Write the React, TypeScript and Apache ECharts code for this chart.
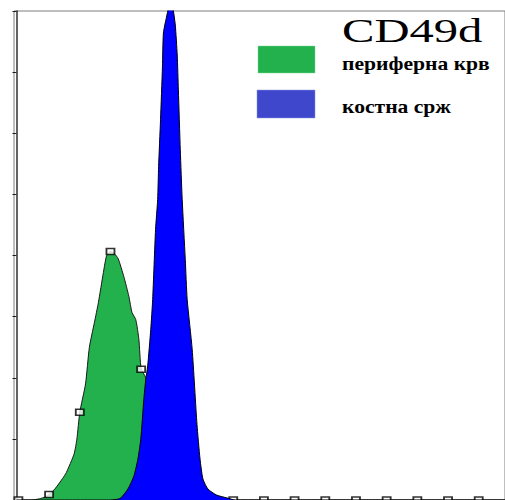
import React, { useEffect, useRef } from "react";
import * as echarts from "echarts";

// Histogram channels (x) and counts (y)
const greenCh = [0, 8, 12, 15, 17, 20, 24, 26, 30, 31.5, 33, 36, 38, 40.6, 42.7, 45.3, 47, 49, 51, 53, 56, 58.6, 60.2, 62.2, 63.8, 65, 67.4, 70, 72.5, 75, 80, 85, 90, 96, 101, 106, 256];
const greenCount = [0, 0, 0.4, 1, 1.8, 3.6, 7, 9, 15, 20, 28.7, 38, 50, 58, 64.6, 74.4, 80, 81.3, 80.6, 79, 73, 66.6, 61.4, 59, 52.6, 43, 40, 33, 26.4, 20, 11, 5.2, 2.3, 1, 0.3, 0, 0];

const blueCh = [0, 49, 53, 54.5, 58.1, 61.2, 63.3, 64.8, 66.4, 67.4, 68.4, 70, 71, 72.5, 73.6, 74.1, 75.1, 76.1, 76.6, 78.2, 79.2, 80.2, 81.8, 82.8, 83.8, 84.4, 85.4, 86.4, 88, 89, 91.6, 94.1, 95.7, 97.2, 99.8, 104.4, 109.6, 114, 256];
const blueCount = [0, 0, 0.3, 0.7, 3.6, 7.8, 13.4, 19.9, 33, 39.5, 43.8, 55.8, 65.6, 88.5, 98.3, 109.1, 124.4, 141.7, 152.8, 158, 161, 165, 160, 155.4, 145.6, 134.2, 114.6, 98.3, 78.7, 65.6, 49.3, 24.8, 13.4, 6.9, 3.6, 1.6, 0.7, 0, 0];

// Gate markers on the green histogram
const markerCh = [1, 17, 33, 49, 65, 81, 97, 113, 129, 145, 161, 177, 193, 209, 225, 241];
const markerCount = [0, 1.8, 28.7, 81.3, 42.8, 11, 1, 0, 0, 0, 0, 0, 0, 0, 0, 0];

const seriesNames = ["периферна крв", "костна срж"];
const titleText = "CD49d";

const GREEN = "#22B14C";
const BLUE = "#0000FF";
const LEGEND_BLUE = "#3F48CC";
const SERIF = '"Liberation Serif", "Times New Roman", serif';

export default function App() {
  const ref = useRef<HTMLDivElement | null>(null);

  useEffect(() => {
    document.body.style.margin = "0";
    document.body.style.overflow = "hidden";
    if (!ref.current) return;
    const chart = echarts.init(ref.current, null, { renderer: "svg" });
    const greenData = greenCh.map((c, i) => [c, greenCount[i]]);
    const blueData = blueCh.map((c, i) => [c, blueCount[i]]);
    const markerData = markerCh.map((c, i) => [c, markerCount[i]]);

    chart.setOption({
      animation: false,
      backgroundColor: "#ffffff",
      grid: {
        left: 14,
        top: 11,
        right: -7,
        bottom: -1,
        show: true,
        borderColor: "#7f7f7f",
        borderWidth: 1,
        backgroundColor: "transparent",
      },
      xAxis: {
        type: "value",
        min: -1.3,
        max: 254.7,
        show: false,
      },
      yAxis: {
        type: "value",
        min: 0,
        max: 160,
        interval: 20,
        axisLine: { show: true, lineStyle: { color: "#303030", width: 1.5 } },
        axisTick: { show: true, inside: false, length: 4, lineStyle: { color: "#202020", width: 1 } },
        axisLabel: { show: false },
        splitLine: { show: false },
      },
      series: [
        {
          name: seriesNames[0],
          type: "line",
          data: greenData,
          smooth: 0.2,
          symbol: "none",
          z: 2,
          lineStyle: { color: "#1a1a1a", width: 1 },
          areaStyle: { color: GREEN, opacity: 1 },
        },
        {
          name: "markers",
          type: "scatter",
          data: markerData,
          symbol: "rect",
          symbolSize: [8, 6],
          z: 2,
          itemStyle: { color: "#ffffff", borderColor: "#000000", borderWidth: 1.6 },
        },
        {
          name: seriesNames[1],
          type: "line",
          data: blueData,
          smooth: 0.2,
          symbol: "none",
          z: 3,
          lineStyle: { color: "#000000", width: 1 },
          areaStyle: { color: BLUE, opacity: 1 },
        },
      ],
      graphic: [
        {
          type: "text",
          x: 342,
          y: 31,
          scaleX: 1.43,
          z: 10,
          style: { text: titleText, font: `34px ${SERIF}`, fill: "#000", verticalAlign: "middle", align: "left" },
        },
        {
          type: "rect",
          shape: { x: 258, y: 46, width: 57, height: 27 },
          z: 10,
          style: { fill: GREEN, stroke: "#7fd49a", lineWidth: 0.5 },
        },
        {
          type: "rect",
          shape: { x: 257, y: 90, width: 58, height: 28 },
          z: 10,
          style: { fill: LEGEND_BLUE, stroke: "#8a90e0", lineWidth: 0.5 },
        },
        {
          type: "text",
          x: 342,
          y: 64,
          scaleX: 1.2,
          z: 10,
          style: { text: seriesNames[0], font: `bold 18px ${SERIF}`, fill: "#000", verticalAlign: "middle", align: "left" },
        },
        {
          type: "text",
          x: 342,
          y: 107,
          scaleX: 1.2,
          z: 10,
          style: { text: seriesNames[1], font: `bold 18px ${SERIF}`, fill: "#000", verticalAlign: "middle", align: "left" },
        },
      ],
    });

    return () => {
      chart.dispose();
    };
  }, []);

  return <div ref={ref} style={{ width: 505, height: 500 }} />;
}
